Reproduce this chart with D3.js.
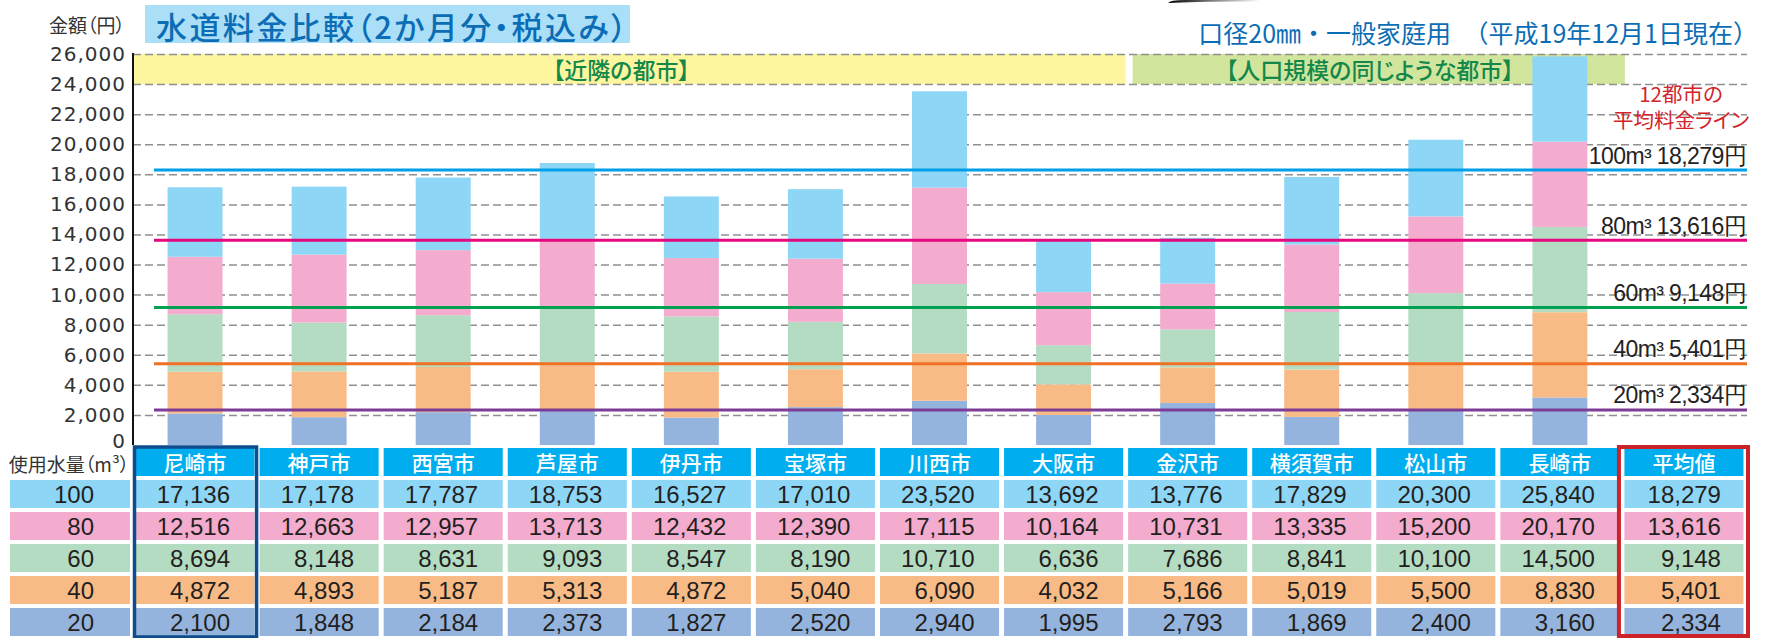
<!DOCTYPE html>
<html>
<head>
<meta charset="utf-8">
<script src="https://cdn.jsdelivr.net/npm/d3@7"></script>
<style>
body { margin: 0; background: #fff; }
svg { display: block; }
.jp { font-family: "Noto Sans CJK JP", "Noto Sans", sans-serif; font-feature-settings: "palt" 1; }
.num { font-family: "Liberation Sans", Arial, sans-serif; }
</style>
</head>
<body>
<div id="chart"></div>
<script>
// 水道料金比較 data (2か月分・税込み, 口径20mm)
var cities = ["尼崎市", "神戸市", "西宮市", "芦屋市", "伊丹市", "宝塚市", "川西市", "大阪市",
              "金沢市", "横須賀市", "松山市", "長崎市"];
var avgName = "平均値";
var columns = cities.concat([avgName]);

var usageLevels = ["100", "80", "60", "40", "20"];

// last value in each list is the 12-city average
var fee100 = [17136, 17178, 17787, 18753, 16527, 17010, 23520, 13692, 13776, 17829, 20300, 25840, 18279];
var fee80  = [12516, 12663, 12957, 13713, 12432, 12390, 17115, 10164, 10731, 13335, 15200, 20170, 13616];
var fee60  = [8694, 8148, 8631, 9093, 8547, 8190, 10710, 6636, 7686, 8841, 10100, 14500, 9148];
var fee40  = [4872, 4893, 5187, 5313, 4872, 5040, 6090, 4032, 5166, 5019, 5500, 8830, 5401];
var fee20  = [2100, 1848, 2184, 2373, 1827, 2520, 2940, 1995, 2793, 1869, 2400, 3160, 2334];

var yTicks = [0, 2000, 4000, 6000, 8000, 10000, 12000, 14000, 16000, 18000, 20000, 22000, 24000, 26000];

var feeByLevel = {"100": fee100, "80": fee80, "60": fee60, "40": fee40, "20": fee20};

// styles
var fillColor = {"100": "#8ed6f6", "80": "#f3acce", "60": "#b4dcc3", "40": "#f9bb86", "20": "#95b4dd"};
var lineColor = {"100": "#00a0e9", "80": "#e5097f", "60": "#00a150", "40": "#f07125", "20": "#7d3d97"};

WaterChart = function(_parentElement){
    this.parentElement = _parentElement;
    this.initVis();
};

WaterChart.prototype.initVis = function(){
    var vis = this;

    vis.width = 1770;
    vis.height = 638;
    vis.left = 133;
    vis.right = 1746;

    vis.svg = d3.select("#" + vis.parentElement).append("svg")
        .attr("width", vis.width)
        .attr("height", vis.height);

    // scales
    vis.y = d3.scaleLinear()
        .domain([0, 26000])
        .range([445, 54]);

    vis.x = d3.scaleBand()
        .domain(columns)
        .range([vis.left, vis.right])
        .paddingInner(0.557)
        .paddingOuter(0.2785);

    vis.col = d3.scaleBand()
        .domain(columns)
        .range([vis.left, vis.right]);

    vis.row = d3.scaleBand()
        .domain(["header"].concat(usageLevels))
        .range([446, 638])
        .paddingInner(0.125)
        .paddingOuter(0.0625);

    vis.drawBands();
    vis.drawGrid();
    vis.drawBars();
    vis.drawAverages();
    vis.drawTable();
    vis.drawTitles();
};

WaterChart.prototype.drawBands = function(){
    var vis = this;
    var splitX = vis.col("金沢市");
    var endX = vis.col(avgName) + 3;

    var bands = [
        {x0: vis.left, x1: splitX, fill: "#fdf69f", label: "【近隣の都市】", tx: (vis.left + splitX) / 2 - 8},
        {x0: splitX + 7, x1: endX, fill: "#d2e59d", label: "【人口規模の同じような都市】", tx: (splitX + 7 + endX) / 2 - 9}
    ];

    vis.svg.selectAll(".band").data(bands).enter().append("rect")
        .attr("class", "band")
        .attr("x", function(d){ return d.x0; })
        .attr("y", vis.y(26000))
        .attr("width", function(d){ return d.x1 - d.x0; })
        .attr("height", vis.y(24000) - vis.y(26000))
        .attr("fill", function(d){ return d.fill; });

    vis.svg.selectAll(".band-label").data(bands).enter().append("text")
        .attr("class", "band-label jp")
        .attr("x", function(d){ return d.tx; })
        .attr("y", (vis.y(24000) + vis.y(26000)) / 2)
        .attr("dominant-baseline", "central")
        .attr("text-anchor", "middle")
        .attr("font-size", 23)
        .attr("font-weight", 500)
        .attr("fill", "#14884a")
        .text(function(d){ return d.label; });
};

WaterChart.prototype.drawGrid = function(){
    var vis = this;

    var yAxis = d3.axisLeft(vis.y)
        .tickValues(yTicks)
        .tickSize(-(vis.right + 1 - vis.left))
        .tickPadding(7)
        .tickFormat(d3.format(","));

    var g = vis.svg.append("g")
        .attr("class", "y-axis")
        .attr("transform", "translate(" + vis.left + ",0)")
        .call(yAxis);

    g.select(".domain").remove();
    g.selectAll(".tick line")
        .attr("stroke", "#8f8f8f")
        .attr("stroke-width", 1.5)
        .attr("stroke-dasharray", "8,4");
    g.selectAll(".tick text")
        .attr("font-family", "'DejaVu Sans', sans-serif")
        .attr("font-size", 20)
        .attr("letter-spacing", 1)
        .attr("fill", "#333");

    // the zero tick sits right above the table
    var zero = g.selectAll(".tick").filter(function(d){ return d === 0; });
    zero.select("line").remove();
    zero.select("text").attr("y", -4);
};

WaterChart.prototype.drawBars = function(){
    var vis = this;
    var levelsUp = usageLevels.slice().reverse();

    var segments = [];
    cities.forEach(function(city, i){
        var prev = 0;
        levelsUp.forEach(function(level){
            var v = feeByLevel[level][i];
            segments.push({city: city, level: level, y0: prev, y1: v});
            prev = v;
        });
    });

    vis.svg.selectAll(".bar-seg").data(segments).enter().append("rect")
        .attr("class", "bar-seg")
        .attr("x", function(d){ return vis.x(d.city); })
        .attr("width", vis.x.bandwidth())
        .attr("y", function(d){ return vis.y(d.y1); })
        .attr("height", function(d){ return vis.y(d.y0) - vis.y(d.y1); })
        .attr("fill", function(d){ return fillColor[d.level]; });

    // y axis line
    vis.svg.append("line")
        .attr("x1", vis.left).attr("x2", vis.left)
        .attr("y1", vis.y(26000) - 1).attr("y2", vis.y(0))
        .attr("stroke", "#111")
        .attr("stroke-width", 2);
};

WaterChart.prototype.drawAverages = function(){
    var vis = this;
    var last = columns.length - 1;
    var avgs = usageLevels.map(function(level){
        return {level: level, value: feeByLevel[level][last]};
    });

    vis.svg.selectAll(".avg-line").data(avgs).enter().append("line")
        .attr("class", "avg-line")
        .attr("x1", 154)
        .attr("x2", vis.right + 1)
        .attr("y1", function(d){ return vis.y(d.value); })
        .attr("y2", function(d){ return vis.y(d.value); })
        .attr("stroke", function(d){ return lineColor[d.level]; })
        .attr("stroke-width", 3);

    vis.svg.selectAll(".avg-label").data(avgs).enter().append("text")
        .attr("class", "avg-label num")
        .attr("x", vis.right)
        .attr("y", function(d){ return vis.y(d.value) - 6.5; })
        .attr("text-anchor", "end")
        .attr("font-size", 23)
        .attr("letter-spacing", -0.6)
        .attr("fill", "#222")
        .text(function(d){ return d.level + "m³ " + d3.format(",")(d.value) + "円"; });

    // note, one text per line
    var noteLines = [{t: "12都市の", y: 102}, {t: "平均料金ライン", y: 128}];
    vis.svg.selectAll(".note").data(noteLines).enter().append("text")
        .attr("class", "note jp")
        .attr("x", 1681)
        .attr("y", function(d){ return d.y; })
        .attr("text-anchor", "middle")
        .attr("font-size", 20.5)
        .attr("fill", "#d1242b")
        .text(function(d){ return d.t; });
};

WaterChart.prototype.drawTable = function(){
    var vis = this;
    var cw = vis.col.bandwidth();
    var rh = vis.row.bandwidth();

    // row label cells
    vis.svg.selectAll(".row-cell").data(usageLevels).enter().append("rect")
        .attr("class", "row-cell")
        .attr("x", 10)
        .attr("y", function(d){ return vis.row(d); })
        .attr("width", 120)
        .attr("height", rh)
        .attr("fill", function(d){ return fillColor[d]; });

    vis.svg.selectAll(".row-label").data(usageLevels).enter().append("text")
        .attr("class", "row-label num")
        .attr("x", 94)
        .attr("y", function(d){ return vis.row(d) + rh / 2; })
        .attr("dy", "0.36em")
        .attr("text-anchor", "end")
        .attr("font-size", 24)
        .attr("fill", "#231f20")
        .text(function(d){ return d; });

    vis.svg.append("text")
        .attr("class", "jp")
        .attr("x", 69)
        .attr("y", vis.row("header") + rh / 2 + 1)
        .attr("dominant-baseline", "central")
        .attr("text-anchor", "middle")
        .attr("font-size", 19)
        .attr("fill", "#333")
        .text("使用水量（m³）");

    // header cells
    vis.svg.selectAll(".head-cell").data(columns).enter().append("rect")
        .attr("class", "head-cell")
        .attr("x", function(d){ return vis.col(d) + 2.5; })
        .attr("y", vis.row("header"))
        .attr("width", cw - 5)
        .attr("height", rh)
        .attr("fill", "#00aeef");

    vis.svg.selectAll(".head-label").data(columns).enter().append("text")
        .attr("class", "head-label jp")
        .attr("x", function(d){ return vis.col(d) + cw / 2; })
        .attr("y", vis.row("header") + rh / 2)
        .attr("dominant-baseline", "central")
        .attr("text-anchor", "middle")
        .attr("font-size", 21)
        .attr("font-weight", 500)
        .attr("fill", "#fff")
        .text(function(d){ return d; });

    // value cells
    var cells = [];
    usageLevels.forEach(function(level){
        columns.forEach(function(c, i){
            cells.push({level: level, col: c, value: feeByLevel[level][i]});
        });
    });

    vis.svg.selectAll(".val-cell").data(cells).enter().append("rect")
        .attr("class", "val-cell")
        .attr("x", function(d){ return vis.col(d.col) + 2.5; })
        .attr("y", function(d){ return vis.row(d.level); })
        .attr("width", cw - 5)
        .attr("height", rh)
        .attr("fill", function(d){ return fillColor[d.level]; });

    vis.svg.selectAll(".val-label").data(cells).enter().append("text")
        .attr("class", "val-label num")
        .attr("x", function(d){ return vis.col(d.col) + cw / 2 + (d.col === avgName ? 37 : 35); })
        .attr("y", function(d){ return vis.row(d.level) + rh / 2; })
        .attr("dy", "0.36em")
        .attr("text-anchor", "end")
        .attr("font-size", 24)
        .attr("fill", "#231f20")
        .text(function(d){ return d3.format(",")(d.value); });

    // highlight boxes
    vis.svg.append("rect")
        .attr("x", vis.col(cities[0]) + 1.5)
        .attr("y", 447)
        .attr("width", cw - 2)
        .attr("height", 190)
        .attr("fill", "none")
        .attr("stroke", "#0e4c8e")
        .attr("stroke-width", 3.5);

    vis.svg.append("rect")
        .attr("x", vis.col(avgName) - 3)
        .attr("y", 447)
        .attr("width", cw + 5)
        .attr("height", 189)
        .attr("fill", "none")
        .attr("stroke", "#cc2229")
        .attr("stroke-width", 4);
};

WaterChart.prototype.drawTitles = function(){
    var vis = this;

    vis.svg.append("rect")
        .attr("x", 145).attr("y", 5)
        .attr("width", 485).attr("height", 38)
        .attr("fill", "#abdff7");

    vis.svg.append("text")
        .attr("class", "jp")
        .attr("x", 156)
        .attr("y", 25)
        .attr("dominant-baseline", "central")
        .attr("font-size", 31)
        .attr("letter-spacing", 2.4)
        .attr("font-weight", 500)
        .attr("fill", "#0b6db5")
        .text("水道料金比較（2か月分・税込み）");

    vis.svg.append("text")
        .attr("class", "jp")
        .attr("x", 125)
        .attr("y", 24)
        .attr("dominant-baseline", "central")
        .attr("text-anchor", "end")
        .attr("font-size", 19)
        .attr("fill", "#333")
        .text("金額（円）");

    vis.svg.append("text")
        .attr("x", 1758)
        .attr("y", 32)
        .attr("dominant-baseline", "central")
        .attr("text-anchor", "end")
        .attr("font-family", "'Noto Sans CJK JP', sans-serif")
        .attr("font-size", 25)
        .attr("fill", "#0b6db5")
        .text("口径20㎜・一般家庭用　（平成19年12月1日現在）");

    // dark streak cut off at the top edge
    var grad = vis.svg.append("defs").append("linearGradient")
        .attr("id", "streak");
    grad.append("stop").attr("offset", "0%").attr("stop-color", "#000");
    grad.append("stop").attr("offset", "100%").attr("stop-color", "#000").attr("stop-opacity", 0);
    vis.svg.append("path")
        .attr("d", "M1168,3 Q1170,0 1185,0 L1260,0 L1260,1.5 Q1200,1 1168,3 Z")
        .attr("fill", "url(#streak)");
};

new WaterChart("chart");
</script>
</body>
</html>
